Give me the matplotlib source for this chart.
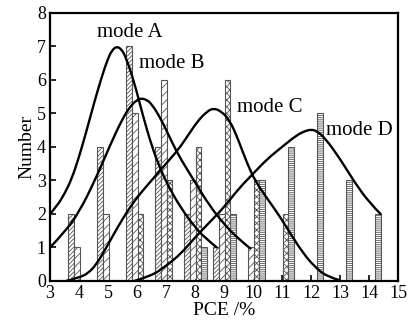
import numpy as np
import matplotlib
matplotlib.use("Agg")
import matplotlib.pyplot as plt
from matplotlib.path import Path
from matplotlib.patches import PathPatch

plt.rcParams['font.family'] = ['Liberation Serif', 'DejaVu Serif']
plt.rcParams['hatch.linewidth'] = 0.6

# histogram of PCE for the four modes
pce_bins = [4, 5, 6, 7, 8, 9, 10, 11, 12, 13, 14]
count_A = [2, 4, 7, 4, 2, 1, 0, 0, 0, 0, 0]
count_B = [1, 2, 5, 6, 3, 2, 1, 0, 0, 0, 0]
count_C = [0, 0, 2, 3, 4, 6, 3, 2, 0, 0, 0]
count_D = [0, 0, 0, 0, 1, 2, 3, 4, 5, 3, 2]

# fitted curves
fit_A_x = [3.0, 3.25, 3.5, 3.75, 4.0, 4.25, 4.5, 4.75, 5.0, 5.15, 5.3, 5.45, 5.6,
           5.9, 6.2, 6.5, 6.8, 7.1, 7.5, 8.0, 8.4, 8.75]
fit_A_y = [2.0, 2.25, 2.6, 3.05, 3.7, 4.45, 5.25, 6.0, 6.65, 6.9, 7.0, 6.93, 6.72,
           5.95, 4.95, 4.05, 3.35, 2.8, 2.2, 1.6, 1.25, 1.0]

fit_B_x = [3.0, 3.5, 4.0, 4.55, 5.07, 5.5, 5.8, 6.0, 6.15, 6.3, 6.5, 6.85, 7.2,
           7.5, 8.0, 8.5, 9.0, 9.5, 9.9]
fit_B_y = [1.0, 1.45, 2.05, 3.0, 4.05, 4.85, 5.25, 5.4, 5.45, 5.42, 5.3, 4.8, 4.15,
           3.65, 2.95, 2.25, 1.7, 1.25, 0.98]

fit_C_x = [3.55, 4.0, 4.32, 4.6, 4.9, 5.2, 5.5, 5.8, 6.1, 6.4, 6.75, 7.1, 7.45,
           7.8, 8.1, 8.4, 8.63, 8.9, 9.2, 9.5, 9.8, 10.1, 10.5, 10.93, 11.3,
           11.73, 12.1, 12.54, 13.0]
fit_C_y = [0.0, 0.1, 0.23, 0.5, 0.93, 1.4, 1.85, 2.25, 2.6, 2.9, 3.25, 3.6, 3.95,
           4.4, 4.78, 5.05, 5.16, 5.07, 4.8, 4.2, 3.5, 2.95, 2.45, 1.92, 1.4,
           0.83, 0.45, 0.13, 0.02]

fit_D_x = [5.9, 6.5, 7.0, 7.5, 8.0, 8.5, 9.0, 9.5, 10.0, 10.5, 11.0, 11.5, 11.8,
           12.0, 12.2, 12.5, 13.0, 13.5, 14.0, 14.4]
fit_D_y = [0.0, 0.15, 0.45, 0.8, 1.3, 1.75, 2.2, 2.75, 3.2, 3.65, 4.0, 4.35, 4.48,
           4.52, 4.48, 4.25, 3.65, 2.95, 2.35, 2.0]

mode_names = ['mode A', 'mode B', 'mode C', 'mode D']
label_pos = [(5.76, 7.43), (7.21, 6.48), (10.59, 5.18), (13.68, 4.5)]

hatches = ['////////', '////', 'xxxxx', '--------']
counts = [count_A, count_B, count_C, count_D]
fits = [(fit_A_x, fit_A_y), (fit_B_x, fit_B_y), (fit_C_x, fit_C_y), (fit_D_x, fit_D_y)]


def smooth_path(xs, ys):
    # quadratic bezier through midpoints, read points act as control points
    pts = list(zip(xs, ys))
    verts = [pts[0]]
    codes = [Path.MOVETO]
    for i in range(1, len(pts) - 1):
        mid = ((pts[i][0] + pts[i + 1][0]) / 2, (pts[i][1] + pts[i + 1][1]) / 2)
        if i == len(pts) - 2:
            mid = pts[-1]
        verts += [pts[i], mid]
        codes += [Path.CURVE3, Path.CURVE3]
    return Path(verts, codes)


fig = plt.figure(figsize=(4.19, 3.28), dpi=100)
ax = fig.add_axes([0.1193, 0.1433, 0.8306, 0.8171])

width = 0.195
bins = np.array(pce_bins)
for k in range(4):
    c = np.array(counts[k])
    m = c > 0
    pos = bins[m] + (k - 1.5) * width + 0.02
    ax.bar(pos, c[m], width=width, color='white', edgecolor='#555555',
           hatch=hatches[k], linewidth=0.8, zorder=2)

for fx, fy in fits:
    ax.add_patch(PathPatch(smooth_path(fx, fy), fill=False, edgecolor='black',
                           lw=1.7, capstyle='round', zorder=3))

for name, (tx, ty) in zip(mode_names, label_pos):
    ax.text(tx, ty, name, ha='center', va='center', fontsize=15, zorder=4)

ax.set_xlim(3, 15)
ax.set_ylim(0, 8)
ax.set_xticks(range(3, 16))
ax.set_yticks(range(0, 9))
ax.tick_params(direction='in', length=4, width=1.2, labelsize=13, pad=3)
for s in ax.spines.values():
    s.set_linewidth(1.6)
ax.set_xlabel('PCE /%', fontsize=14, labelpad=0)
ax.set_ylabel('Number', fontsize=14, labelpad=1)

fig.savefig('out.png', dpi=100)
